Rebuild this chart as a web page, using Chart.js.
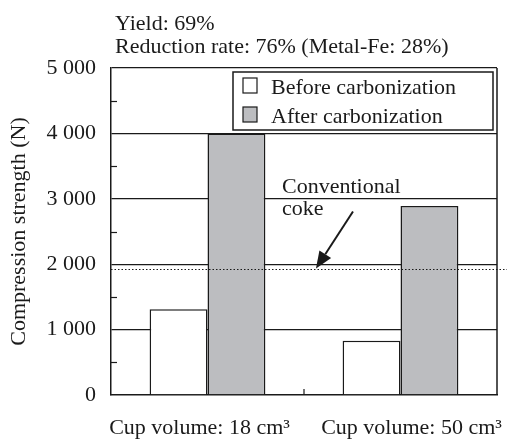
<!DOCTYPE html>
<html>
<head>
<meta charset="utf-8">
<script src="https://cdn.jsdelivr.net/npm/chart.js@4.4.1/dist/chart.umd.min.js"></script>
<style>
  html, body { margin: 0; padding: 0; background: #fff; }
  #wrap { width: 507px; height: 441px; }
</style>
</head>
<body>
<div id="wrap"><canvas id="chart" width="507" height="441"></canvas></div>
<script>
// data
const categories = ['Cup volume: 18 cm³', 'Cup volume: 50 cm³'];
const beforeValues = [1310, 830];
const afterValues = [4000, 2890];
const cokeStrength = 1930;
const seriesLabels = ['Before carbonization', 'After carbonization'];
const noteLines = ['Yield: 69%', 'Reduction rate: 76% (Metal-Fe: 28%)'];
const cokeLabel = ['Conventional', 'coke'];

const FONT = '"Liberation Serif", "Times New Roman", serif';
const INK = '#1a1a1a';
const GRAY = '#bcbdc0';

// extra drawing: box, minor ticks, legend, coke line, arrow, notes
const extras = {
    id: 'extras',
    afterDatasetsDraw(chart) {
        const ctx = chart.ctx;
        const area = chart.chartArea;
        const y = chart.scales.y;
        const x = chart.scales.x;
        ctx.save();
        ctx.strokeStyle = INK;
        ctx.fillStyle = INK;

        // right border
        ctx.lineWidth = 1.5;
        ctx.beginPath();
        ctx.moveTo(area.right, area.top);
        ctx.lineTo(area.right, area.bottom);
        ctx.stroke();

        // minor ticks on y axis
        ctx.lineWidth = 1.2;
        for (let v = 500; v < y.max; v += 1000) {
            const py = Math.round(y.getPixelForValue(v)) + 0.5;
            ctx.beginPath();
            ctx.moveTo(area.left, py);
            ctx.lineTo(area.left + 6, py);
            ctx.stroke();
        }
        // category separator tick on x axis
        const sep = (x.getPixelForValue(0) + x.getPixelForValue(1)) / 2;
        ctx.beginPath();
        ctx.moveTo(sep, area.bottom);
        ctx.lineTo(sep, area.bottom - 6);
        ctx.stroke();

        // conventional coke dotted line
        const cy = Math.round(y.getPixelForValue(cokeStrength)) + 0.5;
        ctx.lineWidth = 1;
        ctx.setLineDash([1.5, 2]);
        ctx.beginPath();
        ctx.moveTo(area.left, cy);
        ctx.lineTo(chart.width, cy);
        ctx.stroke();
        ctx.setLineDash([]);

        // arrow to the line
        const tipX = area.left + 205, tipY = cy - 1;
        const startX = tipX + 37, startY = tipY - 57;
        const ang = Math.atan2(tipY - startY, tipX - startX);
        const head = 17, half = 7;
        const bx = tipX - head * Math.cos(ang), by = tipY - head * Math.sin(ang);
        ctx.lineWidth = 2;
        ctx.beginPath();
        ctx.moveTo(startX, startY);
        ctx.lineTo(bx, by);
        ctx.stroke();
        ctx.beginPath();
        ctx.moveTo(tipX, tipY);
        ctx.lineTo(bx + half * Math.sin(ang), by - half * Math.cos(ang));
        ctx.lineTo(bx - half * Math.sin(ang), by + half * Math.cos(ang));
        ctx.closePath();
        ctx.fill();

        // label for the line
        ctx.font = '22px ' + FONT;
        ctx.textAlign = 'left';
        ctx.textBaseline = 'alphabetic';
        ctx.fillText(cokeLabel[0], area.left + 171, 193);
        ctx.fillText(cokeLabel[1], area.left + 171, 215);

        // notes above the plot
        ctx.fillText(noteLines[0], 115, 30);
        ctx.fillText(noteLines[1], 115, 53);

        // category labels under the axis
        const nudge = [-8, 11];
        ctx.textAlign = 'center';
        categories.forEach(function(c, i) {
            ctx.fillText(c, x.getPixelForValue(i) + nudge[i], 434);
        });
        ctx.textAlign = 'left';

        // legend box
        const lx = 233, ly = 72, lw = 260, lh = 58;
        ctx.fillStyle = '#fff';
        ctx.fillRect(lx, ly, lw, lh);
        ctx.lineWidth = 1.5;
        ctx.strokeRect(lx, ly, lw, lh);
        chart.data.datasets.forEach(function(ds, i) {
            const ry = ly + 6 + i * 29;
            ctx.fillStyle = ds.backgroundColor;
            ctx.fillRect(lx + 10, ry, 14, 15);
            ctx.lineWidth = 1.2;
            ctx.strokeRect(lx + 10, ry, 14, 15);
            ctx.fillStyle = INK;
            ctx.fillText(ds.label, lx + 38, ry + 16);
        });

        ctx.restore();
    }
};

const ctx = document.getElementById('chart').getContext('2d');
const chart = new Chart(ctx, {
    type: 'bar',
    data: {
        labels: categories,
        datasets: [{
            label: seriesLabels[0],
            data: beforeValues,
            backgroundColor: '#ffffff',
            borderColor: INK,
            borderWidth: 1.5,
            categoryPercentage: 0.6,
            barPercentage: 1.0
        }, {
            label: seriesLabels[1],
            data: afterValues,
            backgroundColor: GRAY,
            borderColor: INK,
            borderWidth: 1.5,
            categoryPercentage: 0.6,
            barPercentage: 1.0
        }]
    },
    options: {
        responsive: false,
        animation: false,
        layout: { padding: { top: 68, right: 10, left: 0, bottom: 0 } },
        plugins: {
            legend: { display: false },
            tooltip: { enabled: false }
        },
        scales: {
            x: {
                grid: { display: false },
                border: { display: true, color: INK, width: 1.5 },
                ticks: { display: false },
                afterFit: function(scale) {
                    scale.height = 46;
                    scale.paddingLeft = 0;
                    scale.paddingRight = 0;
                }
            },
            y: {
                min: 0,
                max: 5000,
                border: { display: true, color: INK, width: 1.5 },
                grid: {
                    drawTicks: false,
                    color: function(c) {
                        return c.tick.value === 0 ? 'rgba(0,0,0,0)' : INK;
                    },
                    lineWidth: 1.3
                },
                ticks: {
                    stepSize: 1000,
                    color: INK,
                    padding: 15,
                    font: { family: FONT, size: 22 },
                    callback: function(v) {
                        return v >= 1000 ? Math.floor(v / 1000) + ' ' + String(v % 1000).padStart(3, '0') : String(v);
                    }
                },
                title: {
                    display: true,
                    text: 'Compression strength (N)',
                    color: INK,
                    font: { family: FONT, size: 22 },
                    padding: { top: 6, bottom: 0 }
                },
                afterFit: function(scale) { scale.width = 111; }
            }
        }
    },
    plugins: [extras]
});
</script>
</body>
</html>
